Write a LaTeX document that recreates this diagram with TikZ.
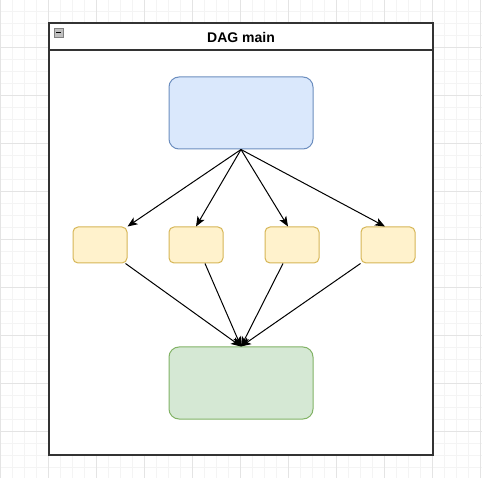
\documentclass[tikz,border=0pt]{standalone}
\usepackage{fontspec}
\setmainfont{Liberation Sans}
\usetikzlibrary{arrows.meta, positioning}
\definecolor{gridminor}{HTML}{F4F4F4}
\definecolor{gridmajor}{HTML}{E4E4E4}
\definecolor{blfill}{HTML}{DAE8FC}
\definecolor{bldraw}{HTML}{6C8EBF}
\definecolor{yefill}{HTML}{FFF2CC}
\definecolor{yedraw}{HTML}{D6B656}
\definecolor{grfill}{HTML}{D5E8D4}
\definecolor{grdraw}{HTML}{82B366}
\tikzset{
  bigbox/.style={rounded corners=10pt, minimum width=144pt, minimum height=72pt, inner sep=0pt, line width=1pt},
  smallbox/.style={rounded corners=5pt, fill=yefill, draw=yedraw, minimum width=54pt, minimum height=36pt, inner sep=0pt, line width=1pt},
  dagedge/.style={line width=1pt, -{Stealth[length=10pt,width=8pt,inset=2.5pt]}}
}

\begin{document}
\begin{tikzpicture}[x=1pt, y=-1pt]
		\useasboundingbox (0,0) rectangle (482,478);
		\fill[white] (0,0) rectangle (482,478);

		% background grid
		\foreach \gx in {0,12,...,480}
			\draw[gridminor, line width=0.8pt] (\gx,0) -- (\gx,478);
		\foreach \gy in {11,23,...,477}
			\draw[gridminor, line width=0.8pt] (0,\gy) -- (482,\gy);
		\foreach \gx in {0,48,...,480}
			\draw[gridmajor, line width=0.8pt] (\gx,0) -- (\gx,478);
		\foreach \gy in {47,95,...,477}
			\draw[gridmajor, line width=0.8pt] (0,\gy) -- (482,\gy);

		% container
		\fill[white] (49,23) rectangle (433,455);
		\draw[line width=1.5pt, black!80] (49,23) rectangle (433,455);
		\draw[line width=1.5pt, black!80] (49,50) -- (433,50);
		\node[font=\bfseries\fontsize{14}{16}\selectfont] (title) at (241,37) {DAG main};
		\filldraw[fill=black!25, draw=black!50, line width=0.6pt] (54,28) rectangle (63,37);
		\draw[line width=1.2pt] (56,32.5) -- (61,32.5);

		% nodes
		\node[bigbox, fill=blfill, draw=bldraw] (top) at (241,113) {};
		\node[smallbox] (y1) at (100,245) {};
		\node[smallbox] (y2) at (196,245) {};
		\node[smallbox] (y3) at (292,245) {};
		\node[smallbox] (y4) at (388,245) {};
		\node[bigbox, fill=grfill, draw=grdraw] (bottom) at (241,383) {};

		% edges
		\draw[dagedge] (top.south) -- (y1.north east);
		\draw[dagedge] (top.south) -- (y2.north);
		\draw[dagedge] (top.south) -- ([xshift=-4pt]y3.north);
		\draw[dagedge] (top.south) -- ([xshift=-3pt]y4.north);
		\draw[dagedge] ([xshift=-2pt]y1.south east) -- (bottom.north);
		\draw[dagedge] ([xshift=9pt]y2.south) -- (bottom.north);
		\draw[dagedge] ([xshift=-9pt]y3.south) -- (bottom.north);
		\draw[dagedge] (y4.south west) -- (bottom.north);
	\end{tikzpicture}
\end{document}
